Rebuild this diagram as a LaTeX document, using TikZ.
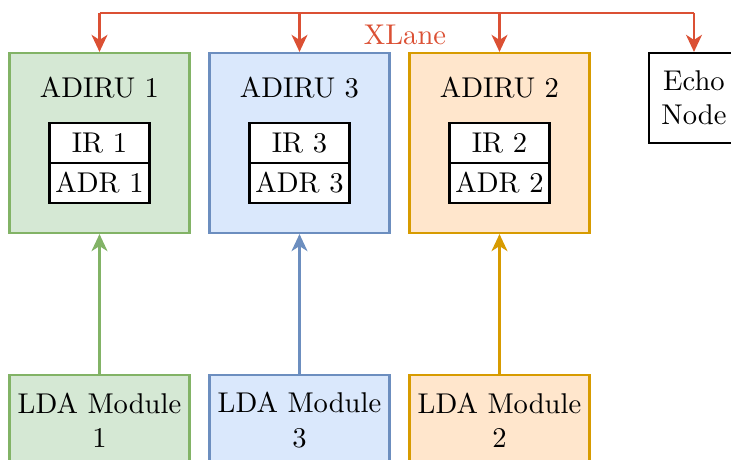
\documentclass[tikz,border=0pt]{standalone}
\usetikzlibrary{arrows.meta}
\definecolor{gfill}{HTML}{D5E8D4}\definecolor{gline}{HTML}{82B366}
\definecolor{bfill}{HTML}{DAE8FC}\definecolor{bline}{HTML}{6C8EBF}
\definecolor{ofill}{HTML}{FFE6CC}\definecolor{oline}{HTML}{D79B00}
\definecolor{xred}{HTML}{DB5034}
\tikzset{
  unitbox/.style={draw, line width=0.75pt, minimum width=63pt, minimum height=63pt, inner sep=0pt},
  subbox/.style={draw=black, fill=white, line width=0.75pt, minimum width=35pt, minimum height=14pt, inner sep=0pt},
  ldabox/.style={draw, line width=0.75pt, minimum width=63pt, minimum height=31.5pt, inner sep=0pt, align=center},
  echobox/.style={draw=black, line width=0.75pt, minimum width=31.5pt, minimum height=31.5pt, inner sep=0pt, align=center},
  arr/.style={line width=0.75pt, -{Stealth[length=6pt,width=5.6pt,inset=1.8pt]}},
  xline/.style={xred, line width=0.75pt},
  lbl/.style={inner sep=0pt}
}
\begin{document}
\begin{tikzpicture}[x=0.35pt,y=-0.35pt]
\useasboundingbox (0,0) rectangle (731,460);
\clip (0,0) rectangle (731,460);
% ADIRU units
\node[unitbox, draw=gline, fill=gfill] (a1) at (99.5,143) {};
\node[unitbox, draw=bline, fill=bfill] (a3) at (299.5,143) {};
\node[unitbox, draw=oline, fill=ofill] (a2) at (499.5,143) {};
\node[lbl] (t1) at (99.5,88) {ADIRU 1};
\node[lbl] (t3) at (299.5,88) {ADIRU 3};
\node[lbl] (t2) at (499.5,88) {ADIRU 2};
\node[subbox] (ir1) at (99.5,143) {IR 1};
\node[subbox] (adr1) at (99.5,183) {ADR 1};
\node[subbox] (ir3) at (299.5,143) {IR 3};
\node[subbox] (adr3) at (299.5,183) {ADR 3};
\node[subbox] (ir2) at (499.5,143) {IR 2};
\node[subbox] (adr2) at (499.5,183) {ADR 2};
% Echo node
\node[echobox] (echo) at (694,98) {Echo\\Node};
% LDA modules
\node[ldabox, draw=gline, fill=gfill] (l1) at (99.5,420) {LDA Module\\1};
\node[ldabox, draw=bline, fill=bfill] (l3) at (299.5,420) {LDA Module\\3};
\node[ldabox, draw=oline, fill=ofill] (l2) at (499.5,420) {LDA Module\\2};
% LDA arrows
\draw[arr, gline] (l1) -- (a1);
\draw[arr, bline] (l3) -- (a3);
\draw[arr, oline] (l2) -- (a2);
% XLane
\coordinate (top) at (0,13);
\draw[xline] (a1.north |- top) -- (echo.north |- top);
\draw[arr, xred] (a1.north |- top) -- (a1.north);
\draw[arr, xred] (a3.north |- top) -- (a3.north);
\draw[arr, xred] (a2.north |- top) -- (a2.north);
\draw[arr, xred] (echo.north |- top) -- (echo.north);
\node[lbl, text=xred] (xl) at (405,35) {XLane};
\end{tikzpicture}
\end{document}
